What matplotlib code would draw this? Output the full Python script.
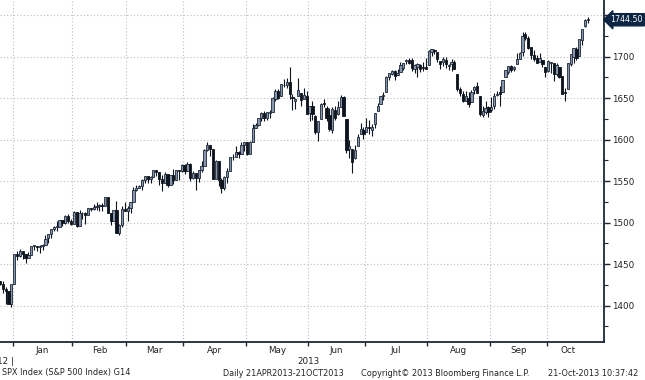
import numpy as np
import pandas as pd
import matplotlib
matplotlib.use('Agg')
import matplotlib.pyplot as plt
from matplotlib.ticker import MultipleLocator, FixedLocator
import matplotlib.transforms as mtransforms

# Trading days shown on the chart (Dec 2012 - 21 Oct 2013)
trading_days = {
    '2012-12': [24, 26, 27, 28, 31],
    '2013-01': [2, 3, 4, 7, 8, 9, 10, 11, 14, 15, 16, 17, 18, 22, 23, 24, 25, 28, 29, 30, 31],
    '2013-02': [1, 4, 5, 6, 7, 8, 11, 12, 13, 14, 15, 19, 20, 21, 22, 25, 26, 27, 28],
    '2013-03': [1, 4, 5, 6, 7, 8, 11, 12, 13, 14, 15, 18, 19, 20, 21, 22, 25, 26, 27, 28],
    '2013-04': [1, 2, 3, 4, 5, 8, 9, 10, 11, 12, 15, 16, 17, 18, 19, 22, 23, 24, 25, 26, 29, 30],
    '2013-05': [1, 2, 3, 6, 7, 8, 9, 10, 13, 14, 15, 16, 17, 20, 21, 22, 23, 24, 28, 29, 30, 31],
    '2013-06': [3, 4, 5, 6, 7, 10, 11, 12, 13, 14, 17, 18, 19, 20, 21, 24, 25, 26, 27, 28],
    '2013-07': [1, 2, 3, 5, 8, 9, 10, 11, 12, 15, 16, 17, 18, 19, 22, 23, 24, 25, 26, 29, 30, 31],
    '2013-08': [1, 2, 5, 6, 7, 8, 9, 12, 13, 14, 15, 16, 19, 20, 21, 22, 23, 26, 27, 28, 29, 30],
    '2013-09': [3, 4, 5, 6, 9, 10, 11, 12, 13, 16, 17, 18, 19, 20, 23, 24, 25, 26, 27, 30],
    '2013-10': [1, 2, 3, 4, 7, 8, 9, 10, 11, 14, 15, 16, 17, 18, 21],
}

opens = [
    1430.2, 1426.7, 1419.8, 1418.1, 1402.4,
    1426.2, 1462.4, 1459.4, 1466.5, 1461.9, 1457.2, 1461.0, 1472.1, 1472.1, 1470.7, 1472.3,
    1472.6, 1481.0, 1486.0, 1492.6, 1494.8, 1494.8, 1503.0, 1500.2, 1507.8, 1502.0,
    1498.1, 1513.2, 1495.7, 1511.3, 1512.1, 1509.4, 1517.9, 1517.0, 1519.4, 1520.3,
    1521.4, 1519.8, 1530.9, 1512.0, 1502.4, 1515.6, 1487.9, 1496.9, 1516.0,
    1514.7, 1518.2, 1525.2, 1539.8, 1541.5, 1544.3, 1551.2, 1556.2, 1552.5, 1554.5,
    1563.2, 1560.7, 1552.1, 1548.3, 1558.7, 1545.9, 1556.9, 1551.7, 1563.8, 1562.9,
    1569.2, 1562.2, 1570.3, 1553.7, 1560.0, 1553.3, 1563.1, 1568.6, 1587.7, 1593.3,
    1588.8, 1552.4, 1574.6, 1552.0, 1541.6, 1555.3, 1562.5, 1578.8, 1578.9, 1585.2,
    1582.3, 1593.6,
    1597.6, 1582.8, 1597.6, 1614.4, 1617.6, 1626.0, 1632.7, 1626.7, 1632.1, 1633.8,
    1649.1, 1658.1, 1652.5, 1665.7, 1666.2, 1669.4, 1651.6, 1646.7, 1652.6, 1656.6,
    1649.1, 1652.1,
    1631.7, 1640.7, 1629.1, 1609.3, 1625.3, 1644.7, 1638.6, 1629.9, 1612.2, 1635.5,
    1630.6, 1639.8, 1651.8, 1624.6, 1588.6, 1588.8, 1577.5, 1592.3, 1606.4, 1611.1,
    1609.8, 1614.3, 1611.5, 1618.7, 1634.2, 1642.9, 1652.5, 1657.4, 1675.3, 1679.6,
    1682.7, 1677.9, 1681.1, 1686.2, 1694.4, 1696.6, 1696.1, 1685.2, 1687.3, 1690.3,
    1687.9, 1687.8,
    1689.4, 1706.1, 1708.0, 1705.8, 1695.3, 1693.4, 1696.1, 1688.4, 1690.7, 1693.9,
    1679.6, 1661.2, 1655.3, 1646.8, 1650.7, 1645.0, 1659.9, 1664.3, 1652.5, 1630.3,
    1633.5, 1638.9,
    1636.0, 1640.7, 1653.3, 1657.4, 1656.9, 1675.1, 1681.0, 1689.2, 1685.0, 1691.7,
    1697.7, 1705.7, 1727.3, 1722.4, 1711.4, 1702.6, 1698.0, 1694.1, 1695.5, 1687.3,
    1682.4, 1691.9, 1692.4, 1678.8, 1687.2, 1676.2, 1657.0, 1660.9, 1691.1, 1699.9,
    1709.2, 1700.5, 1720.2, 1736.7, 1744.5,
]
highs = [
    1430.2, 1429.4, 1422.8, 1418.1, 1426.7,
    1462.4, 1465.5, 1467.9, 1466.5, 1461.9, 1464.7, 1472.3, 1472.8, 1472.1, 1473.3,
    1474.0, 1485.2, 1486.0, 1492.6, 1496.1, 1502.3, 1503.3, 1503.2, 1509.4, 1509.9,
    1504.2,
    1514.4, 1513.2, 1515.0, 1512.5, 1512.9, 1518.3, 1518.3, 1522.3, 1524.7, 1523.1,
    1524.2, 1530.9, 1530.9, 1512.0, 1515.6, 1525.8, 1499.0, 1520.1, 1525.3,
    1520.0, 1525.3, 1543.5, 1545.3, 1545.8, 1552.5, 1556.3, 1556.8, 1556.4, 1563.3,
    1563.6, 1560.7, 1557.3, 1561.6, 1558.7, 1557.7, 1564.9, 1564.0, 1564.1, 1570.3,
    1570.6, 1573.7, 1571.5, 1562.6, 1560.0, 1563.1, 1573.9, 1589.1, 1597.4, 1593.3,
    1588.8, 1575.4, 1574.6, 1554.4, 1555.9, 1565.6, 1579.6, 1583.0, 1592.6, 1585.8,
    1596.7, 1597.6,
    1597.6, 1598.6, 1618.5, 1619.8, 1626.0, 1632.8, 1635.0, 1633.7, 1636.0, 1651.1,
    1661.5, 1660.5, 1667.5, 1672.8, 1674.9, 1687.2, 1655.5, 1649.8, 1674.2, 1656.6,
    1661.9, 1659.0,
    1640.4, 1646.5, 1629.3, 1622.6, 1644.4, 1648.7, 1640.1, 1637.7, 1639.3, 1640.8,
    1646.5, 1654.2, 1652.5, 1624.6, 1599.2, 1588.8, 1593.8, 1606.8, 1620.1, 1615.9,
    1626.6, 1624.3, 1619.0, 1632.1, 1644.7, 1652.5, 1657.9, 1676.6, 1680.2, 1684.5,
    1683.7, 1684.8, 1693.1, 1692.1, 1697.6, 1698.8, 1698.4, 1690.9, 1691.9, 1690.9,
    1693.2, 1698.4,
    1707.9, 1709.7, 1709.2, 1705.8, 1695.3, 1700.2, 1699.4, 1691.5, 1696.8, 1695.5,
    1679.6, 1663.6, 1659.2, 1658.9, 1657.0, 1659.6, 1664.9, 1669.5, 1652.5, 1641.2,
    1646.4, 1640.1,
    1651.4, 1655.7, 1659.2, 1664.8, 1672.4, 1684.1, 1689.1, 1690.0, 1688.7, 1705.0,
    1705.5, 1729.4, 1729.9, 1725.2, 1711.4, 1707.6, 1701.7, 1703.9, 1695.5, 1687.3,
    1696.6, 1693.9, 1692.4, 1691.9, 1687.2, 1676.8, 1662.5, 1692.6, 1703.4, 1711.0,
    1711.6, 1721.8, 1733.5, 1745.3, 1747.8,
]
lows = [
    1424.7, 1414.8, 1401.8, 1401.6, 1398.1,
    1426.2, 1455.5, 1459.0, 1456.6, 1451.6, 1457.2, 1461.0, 1467.6, 1465.7, 1463.8,
    1467.6, 1472.6, 1475.8, 1481.2, 1489.9, 1489.5, 1494.8, 1496.3, 1498.1, 1500.1,
    1496.8,
    1498.1, 1495.0, 1495.7, 1504.7, 1498.5, 1509.4, 1513.6, 1515.6, 1515.9, 1514.0,
    1514.1, 1519.8, 1511.4, 1497.3, 1502.4, 1487.9, 1485.0, 1494.9, 1514.5,
    1501.5, 1512.3, 1525.2, 1538.1, 1541.5, 1539.5, 1547.4, 1548.2, 1548.3, 1554.5,
    1555.7, 1545.1, 1538.6, 1548.3, 1543.6, 1545.9, 1546.2, 1551.7, 1551.9, 1561.1,
    1558.5, 1562.2, 1549.8, 1552.5, 1539.5, 1548.6, 1560.9, 1568.6, 1586.2, 1580.0,
    1552.3, 1552.4, 1543.7, 1536.0, 1539.4, 1548.2, 1562.5, 1575.8, 1578.9, 1577.6,
    1582.3, 1586.5,
    1581.3, 1582.8, 1597.6, 1614.2, 1616.6, 1622.7, 1623.1, 1623.7, 1626.7, 1633.8,
    1646.7, 1648.6, 1652.5, 1663.5, 1662.7, 1648.9, 1635.5, 1636.9, 1652.6, 1640.1,
    1648.6, 1630.7,
    1622.7, 1623.6, 1607.1, 1598.2, 1625.3, 1639.3, 1622.9, 1610.9, 1608.1, 1624.0,
    1630.3, 1639.8, 1628.9, 1584.3, 1577.7, 1560.3, 1577.1, 1592.3, 1606.4, 1601.1,
    1609.8, 1606.8, 1604.6, 1614.7, 1634.2, 1642.9, 1647.7, 1657.4, 1672.3, 1677.9,
    1671.8, 1677.9, 1681.1, 1684.1, 1690.7, 1691.1, 1682.6, 1680.1, 1676.0, 1681.9,
    1682.4, 1684.9,
    1689.4, 1700.7, 1703.6, 1693.3, 1684.9, 1688.4, 1686.0, 1683.4, 1682.6, 1684.8,
    1658.6, 1652.6, 1645.8, 1646.1, 1639.4, 1645.0, 1654.8, 1656.0, 1629.1, 1627.5,
    1630.9, 1627.5,
    1633.4, 1637.4, 1653.1, 1640.6, 1656.9, 1675.1, 1678.7, 1682.0, 1682.2, 1691.7,
    1697.7, 1700.4, 1720.2, 1708.9, 1697.1, 1694.9, 1691.9, 1693.1, 1687.1, 1675.0,
    1682.1, 1680.3, 1670.4, 1677.3, 1674.7, 1655.0, 1646.5, 1660.9, 1688.5, 1692.1,
    1695.9, 1700.5, 1714.1, 1735.7, 1740.7,
]
closes = [
    1426.7, 1419.8, 1418.1, 1402.4, 1426.2,
    1462.4, 1459.4, 1466.5, 1461.9, 1457.2, 1461.0, 1472.1, 1472.1, 1470.7, 1472.3,
    1472.6, 1480.9, 1486.0, 1492.6, 1494.8, 1494.8, 1503.0, 1500.2, 1507.8, 1502.0,
    1498.1,
    1513.2, 1495.7, 1511.3, 1512.1, 1509.4, 1517.9, 1517.0, 1519.4, 1520.3, 1521.4,
    1519.8, 1530.9, 1512.0, 1502.4, 1515.6, 1487.9, 1496.9, 1516.0, 1514.7,
    1518.2, 1525.2, 1539.8, 1541.5, 1544.3, 1551.2, 1556.2, 1552.5, 1554.5, 1563.2,
    1560.7, 1552.1, 1548.3, 1558.7, 1545.8, 1556.9, 1551.7, 1563.8, 1562.9, 1569.2,
    1562.2, 1570.3, 1553.7, 1560.0, 1553.3, 1563.1, 1568.6, 1587.7, 1593.4, 1588.9,
    1552.4, 1574.6, 1552.0, 1541.6, 1555.3, 1562.5, 1578.8, 1578.8, 1585.2, 1582.2,
    1593.6, 1597.6,
    1582.7, 1597.6, 1614.4, 1617.5, 1626.0, 1632.7, 1626.7, 1633.7, 1633.8, 1650.3,
    1658.8, 1650.5, 1667.5, 1666.3, 1669.2, 1655.4, 1650.5, 1649.6, 1660.1, 1648.4,
    1654.4, 1630.7,
    1640.4, 1631.4, 1608.9, 1622.6, 1643.4, 1642.8, 1626.1, 1612.5, 1636.4, 1626.7,
    1639.0, 1651.8, 1628.9, 1588.2, 1592.4, 1573.1, 1588.0, 1603.3, 1613.2, 1606.3,
    1615.0, 1614.1, 1615.4, 1631.9, 1640.5, 1652.3, 1652.6, 1675.0, 1680.2, 1682.5,
    1676.3, 1680.9, 1689.4, 1692.1, 1695.5, 1692.4, 1685.9, 1690.3, 1691.7, 1685.3,
    1686.0, 1685.7,
    1706.9, 1709.7, 1707.1, 1697.4, 1690.9, 1697.5, 1691.4, 1689.5, 1694.2, 1685.4,
    1661.3, 1655.8, 1646.1, 1652.4, 1642.8, 1657.0, 1663.5, 1656.8, 1630.5, 1635.0,
    1638.2, 1633.0,
    1639.8, 1653.1, 1655.1, 1655.2, 1671.7, 1684.0, 1689.1, 1683.4, 1688.0, 1697.6,
    1704.8, 1725.5, 1722.3, 1709.9, 1701.8, 1697.4, 1692.8, 1698.7, 1691.8, 1681.6,
    1695.0, 1693.9, 1678.7, 1690.5, 1676.1, 1655.5, 1656.4, 1692.6, 1703.2, 1710.1,
    1698.1, 1721.5, 1733.2, 1744.5, 1744.5,
]
last_price = '1744.50'
year_labels = ['2012', '2013']
footer = ['SPX Index (S&P 500 Index) G14', 'Daily 21APR2013-21OCT2013',
          'Copyright\u00a9 2013 Bloomberg Finance L.P.', '21-Oct-2013 10:37:42']

dates = pd.to_datetime([f'{m}-{d:02d}' for m, days in trading_days.items() for d in days])
o = np.array(opens)
h = np.array(highs)
l = np.array(lows)
c = np.array(closes)
x = np.arange(len(dates))

# month boundaries and month centres (in trading-day index units)
mkey = dates.to_period('M')
bounds = [i - 0.5 for i in range(1, len(dates)) if mkey[i] != mkey[i - 1]]
centres, names = [], []
for p in mkey.unique()[1:]:
    idx = np.where(mkey == p)[0]
    centres.append((idx[0] + idx[-1]) / 2)
    names.append(p.strftime('%b'))

W, H = 645, 380
fig = plt.figure(figsize=(W / 100, H / 100), dpi=100)
ax = fig.add_axes([0, 38 / H, 604 / W, 1 - 38 / H])

up = c >= o
body_lo = np.minimum(o, c)
body_h = np.maximum(np.abs(c - o), 0.8)
ax.vlines(x, l, h, color='#0d141e', linewidth=0.8, zorder=2)
ax.bar(x[up], body_h[up], bottom=body_lo[up], width=0.8, color='#8695ab',
       edgecolor='#1c2737', linewidth=0.6, zorder=3)
ax.bar(x[~up], body_h[~up], bottom=body_lo[~up], width=0.8, color='#0d141e',
       edgecolor='#0d141e', linewidth=0.6, zorder=3)

ax.set_xlim(0.0, 212.7)
ax.set_ylim(1356.3, 1768.3)

# axes styling
for s in ['top', 'left']:
    ax.spines[s].set_visible(False)
for s in ['right', 'bottom']:
    ax.spines[s].set_color('#1b2738')
    ax.spines[s].set_linewidth(1.3)

ax.yaxis.tick_right()
ax.set_yticks(range(1400, 1751, 50))
ax.set_yticklabels([str(v) if v < 1750 else '' for v in range(1400, 1751, 50)])
ax.yaxis.set_minor_locator(MultipleLocator(25))
ax.tick_params(axis='y', which='major', direction='out', length=4, width=1,
               color='#1b2738', pad=2, labelsize=6.3, labelcolor='#222222')
ax.tick_params(axis='y', which='minor', direction='out', length=3, width=0.8, color='#1b2738')

ax.xaxis.set_major_locator(FixedLocator(bounds))
ax.xaxis.set_minor_locator(FixedLocator(centres))
ax.xaxis.set_major_formatter(plt.NullFormatter())
ax.set_xticklabels(names, minor=True)
ax.tick_params(axis='x', which='major', direction='out', length=3, width=1, color='#1b2738')
ax.tick_params(axis='x', which='minor', length=0, pad=3, labelsize=6.3, labelcolor='#222222')

ax.grid(which='major', linestyle=(0, (1, 2)), color='#bdbdbd', linewidth=0.8)
ax.set_axisbelow(True)

# year row
trans = mtransforms.blended_transform_factory(ax.transData, fig.transFigure)
yrow = 1 - 362 / H
ax.text(bounds[0] - 1.6, yrow, year_labels[0], transform=trans, ha='right', va='center',
        fontsize=6.3, color='#222222', clip_on=False)
ax.text(bounds[0], yrow, '|', transform=trans, ha='center', va='center',
        fontsize=6.3, color='#222222', clip_on=False)
ax.text((bounds[0] + 212.7) / 2, yrow, year_labels[1], transform=trans, ha='center',
        va='center', fontsize=6.3, color='#222222', clip_on=False)

# last price tag
ax.annotate(last_price, xy=(1.0, float(c[-1])), xycoords=('axes fraction', 'data'),
            xytext=(4.5, 0), textcoords='offset points', ha='left', va='center',
            fontsize=5.7, color='white', annotation_clip=False, zorder=6,
            bbox=dict(boxstyle='larrow,pad=0.2', fc='#0c2542', ec='#0c2542'))

# footer line
fy = 1 - 373 / H
for txt, px in zip(footer, [2, 223, 361, 548]):
    fig.text(px / W, fy, txt, ha='left', va='center', fontsize=5.9, color='#222222')

fig.savefig('out.png', dpi=100)
